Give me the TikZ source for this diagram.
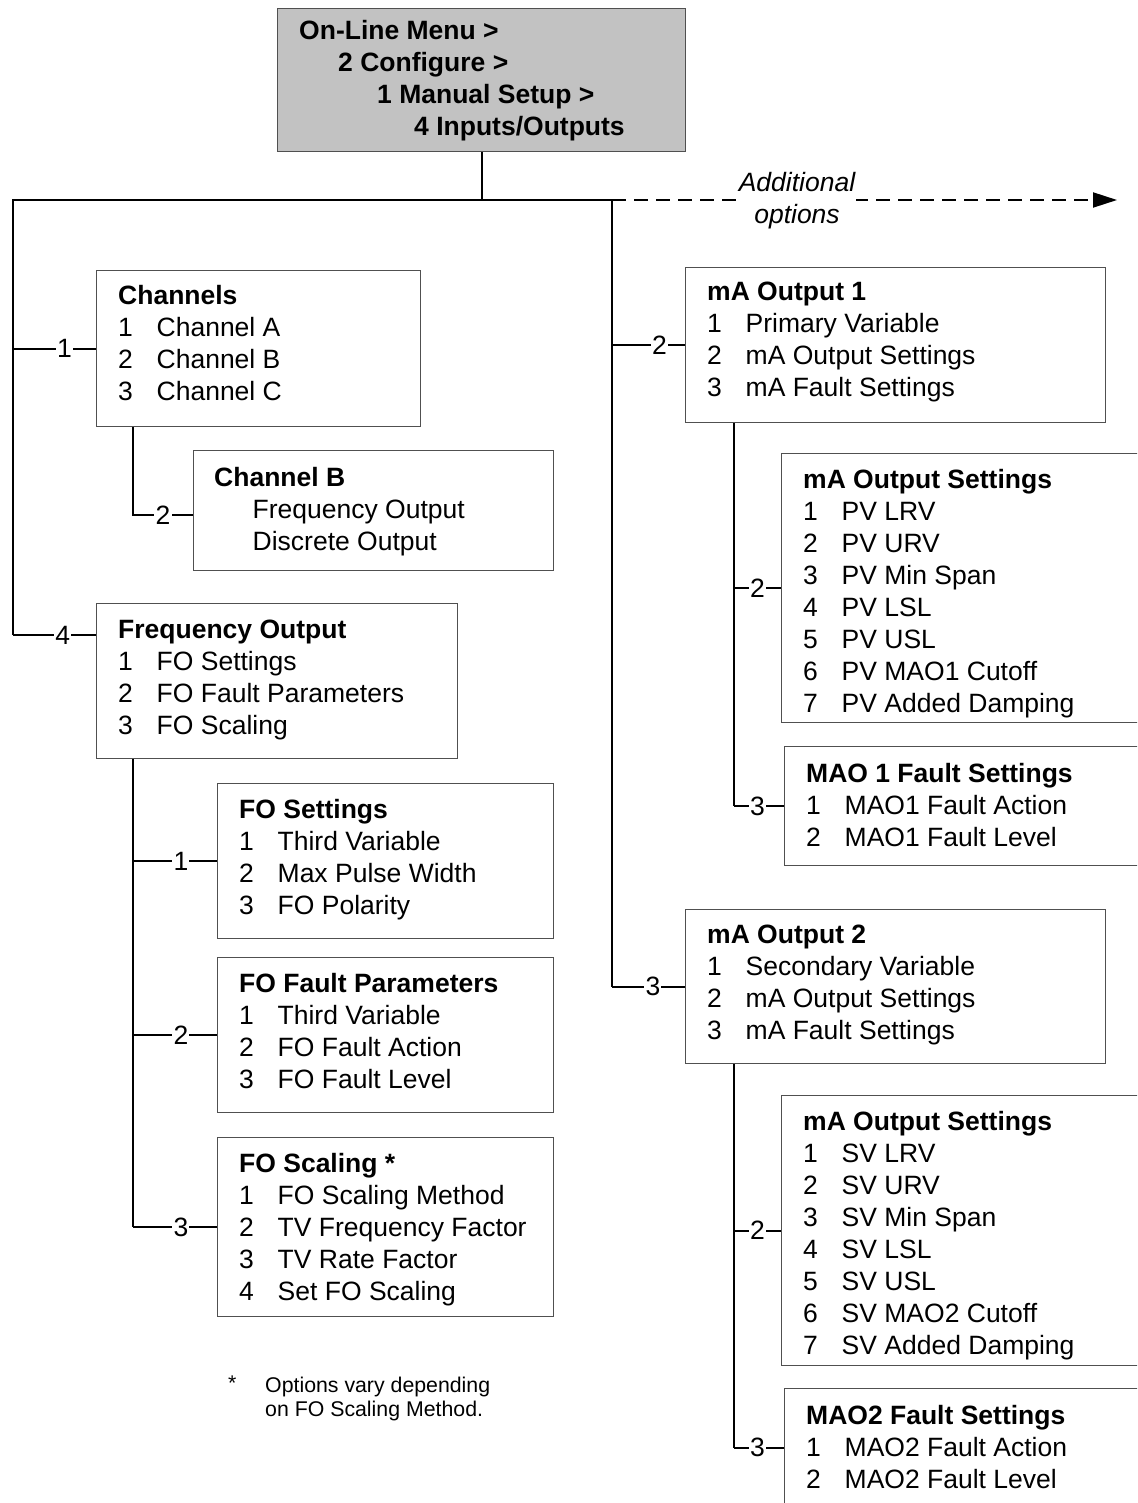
\documentclass[tikz,border=0pt]{standalone}
\usepackage{fontspec}
\setmainfont{Liberation Sans}
\usetikzlibrary{calc,arrows.meta}
\definecolor{boxgray}{HTML}{C2C2C2}
\definecolor{edgegray}{HTML}{505050}
\newcommand{\mitem}[2]{\makebox[38.5pt][l]{#1}#2}
\begin{document}
\begin{tikzpicture}[x=1pt,y=-1pt,
  menubox/.style={draw=edgegray, line width=1.4pt, anchor=north west, inner sep=0pt, fill=white},
  menutext/.style={anchor=north west, inner sep=0pt, align=left, font=\fontsize{26.5}{32}\selectfont},
  conn/.style={line width=2pt, black},
  lbl/.style={fill=white, inner sep=1.2pt, font=\fontsize{26.5}{32}\selectfont}]
\useasboundingbox (0,0) rectangle (1137,1503);
\clip (0,0) rectangle (1137,1503);

% ---------- boxes ----------
\node[menubox, fill=boxgray, minimum width=408pt, minimum height=143pt] (top) at (277,8) {};
\node[menutext, font=\fontsize{26.5}{32}\selectfont\bfseries] (topT) at (299,20.2)
 {On-Line Menu >\\\hspace*{39pt}2 Configure >\\\hspace*{78pt}1 Manual Setup >\\\hspace*{115pt}4 Inputs/Outputs};

\node[menubox, minimum width=324pt, minimum height=156pt] (ch) at (96,270) {};
\node[menutext] (chT) at (118,285.2)
 {\textbf{Channels}\\\mitem{1}{Channel A}\\\mitem{2}{Channel B}\\\mitem{3}{Channel C}};

\node[menubox, minimum width=360pt, minimum height=120pt] (chB) at (193,450) {};
\node[menutext] (chBT) at (214,467.2)
 {\textbf{Channel B}\\\mitem{}{Frequency Output}\\\mitem{}{Discrete Output}};

\node[menubox, minimum width=361pt, minimum height=155pt] (fo) at (96,603) {};
\node[menutext] (foT) at (118,620.2)
 {\textbf{Frequency Output}\\\mitem{1}{FO Settings}\\\mitem{2}{FO Fault Parameters}\\\mitem{3}{FO Scaling}};

\node[menubox, minimum width=336pt, minimum height=155pt] (fos) at (217,783) {};
\node[menutext] (fosT) at (239,799.2)
 {\textbf{FO Settings}\\\mitem{1}{Third Variable}\\\mitem{2}{Max Pulse Width}\\\mitem{3}{FO Polarity}};

\node[menubox, minimum width=336pt, minimum height=155pt] (fof) at (217,957) {};
\node[menutext] (fofT) at (239,973.2)
 {\textbf{FO Fault Parameters}\\\mitem{1}{Third Variable}\\\mitem{2}{FO Fault Action}\\\mitem{3}{FO Fault Level}};

\node[menubox, minimum width=336pt, minimum height=179pt] (fosc) at (217,1137) {};
\node[menutext] (foscT) at (239,1153.2)
 {\textbf{FO Scaling *}\\\mitem{1}{FO Scaling Method}\\\mitem{2}{TV Frequency Factor}\\\mitem{3}{TV Rate Factor}\\\mitem{4}{Set FO Scaling}};

\node[menubox, minimum width=420pt, minimum height=155pt] (ma1) at (685,267) {};
\node[menutext] (ma1T) at (707,282.2)
 {\textbf{mA Output 1}\\\mitem{1}{Primary Variable}\\\mitem{2}{mA Output Settings}\\\mitem{3}{mA Fault Settings}};

\node[menubox, minimum width=379pt, minimum height=269pt] (mas1) at (781,453) {};
\node[menutext] (mas1T) at (803,469.2)
 {\textbf{mA Output Settings}\\\mitem{1}{PV LRV}\\\mitem{2}{PV URV}\\\mitem{3}{PV Min Span}\\\mitem{4}{PV LSL}\\\mitem{5}{PV USL}\\\mitem{6}{PV MAO1 Cutoff}\\\mitem{7}{PV Added Damping}};

\node[menubox, minimum width=376pt, minimum height=119pt] (mf1) at (784,746) {};
\node[menutext] (mf1T) at (806,763.2)
 {\textbf{MAO 1 Fault Settings}\\\mitem{1}{MAO1 Fault Action}\\\mitem{2}{MAO1 Fault Level}};

\node[menubox, minimum width=420pt, minimum height=154pt] (ma2) at (685,909) {};
\node[menutext] (ma2T) at (707,925.2)
 {\textbf{mA Output 2}\\\mitem{1}{Secondary Variable}\\\mitem{2}{mA Output Settings}\\\mitem{3}{mA Fault Settings}};

\node[menubox, minimum width=379pt, minimum height=270pt] (mas2) at (781,1095) {};
\node[menutext] (mas2T) at (803,1111.2)
 {\textbf{mA Output Settings}\\\mitem{1}{SV LRV}\\\mitem{2}{SV URV}\\\mitem{3}{SV Min Span}\\\mitem{4}{SV LSL}\\\mitem{5}{SV USL}\\\mitem{6}{SV MAO2 Cutoff}\\\mitem{7}{SV Added Damping}};

\node[menubox, minimum width=376pt, minimum height=118pt] (mf2) at (784,1388) {};
\node[menutext] (mf2T) at (806,1405.2)
 {\textbf{MAO2 Fault Settings}\\\mitem{1}{MAO2 Fault Action}\\\mitem{2}{MAO2 Fault Level}};

% footnote
\node[anchor=north west, inner sep=0pt, font=\fontsize{21.3}{23.5}\selectfont] (star) at (228,1376) {*};
\node[anchor=north west, inner sep=0pt, align=left, font=\fontsize{21.3}{23.5}\selectfont] (note) at (265,1377)
 {Options vary depending\\on FO Scaling Method.};

% ---------- connectors ----------
\coordinate (jl) at (13,200);
\coordinate (jr) at (612,200);
\coordinate (aend) at (1117,200);
\coordinate (fo4) at ($(fo.north west)+(0,32)$);
\coordinate (chB2) at ($(chB.north west)+(0,65)$);
\coordinate (ft) at ($(fo.south west)+(37,0)$);
\coordinate (ct) at ($(ch.south west)+(37,0)$);
\coordinate (mt1) at ($(ma1.south west)+(49,0)$);
\coordinate (mt2) at ($(ma2.south west)+(49,0)$);

\draw[conn] (top.south) -- (top.south |- jl);
\draw[conn] (jl |- fo4) -- (jl) -- (jr) -- (jr |- ma2.west);
\draw[conn, dashed, dash pattern=on 14pt off 8pt, -{Triangle[length=24pt,width=15pt]}] (jr) -- (aend);
\node[fill=white, inner xsep=1pt, inner ysep=2pt, align=center, font=\fontsize{26.5}{32}\selectfont\itshape] (addl) at (797,201) {Additional\\options};

% left side
\draw[conn] (jl |- ch.west) -- node[lbl, pos=0.62] {1} (ch.west);
\draw[conn] (ct) |- node[lbl, pos=0.75] {2} (chB2);
\draw[conn] (jl |- fo4) -- node[lbl, pos=0.6] {4} (fo4);
\draw[conn] (ft) -- (ft |- fosc.west);
\draw[conn] (ft |- fos.west) -- node[lbl, pos=0.57] {1} (fos.west);
\draw[conn] (ft |- fof.west) -- node[lbl, pos=0.57] {2} (fof.west);
\draw[conn] (ft |- fosc.west) -- node[lbl, pos=0.57] {3} (fosc.west);

% right side
\draw[conn] (jr |- ma1.west) -- node[lbl, pos=0.65] {2} (ma1.west);
\draw[conn] (jr |- ma2.west) -- node[lbl, pos=0.56] {3} (ma2.west);
\draw[conn] (mt1) -- (mt1 |- mf1.west);
\draw[conn] (mt1 |- mas1.west) -- node[lbl, pos=0.5] {2} (mas1.west);
\draw[conn] (mt1 |- mf1.west) -- node[lbl, pos=0.47] {3} (mf1.west);
\draw[conn] (mt2) -- (mt2 |- mf2.west);
\draw[conn] (mt2 |- mas2.west) -- node[lbl, pos=0.5] {2} (mas2.west);
\draw[conn] (mt2 |- mf2.west) -- node[lbl, pos=0.47] {3} (mf2.west);
\end{tikzpicture}
\end{document}
